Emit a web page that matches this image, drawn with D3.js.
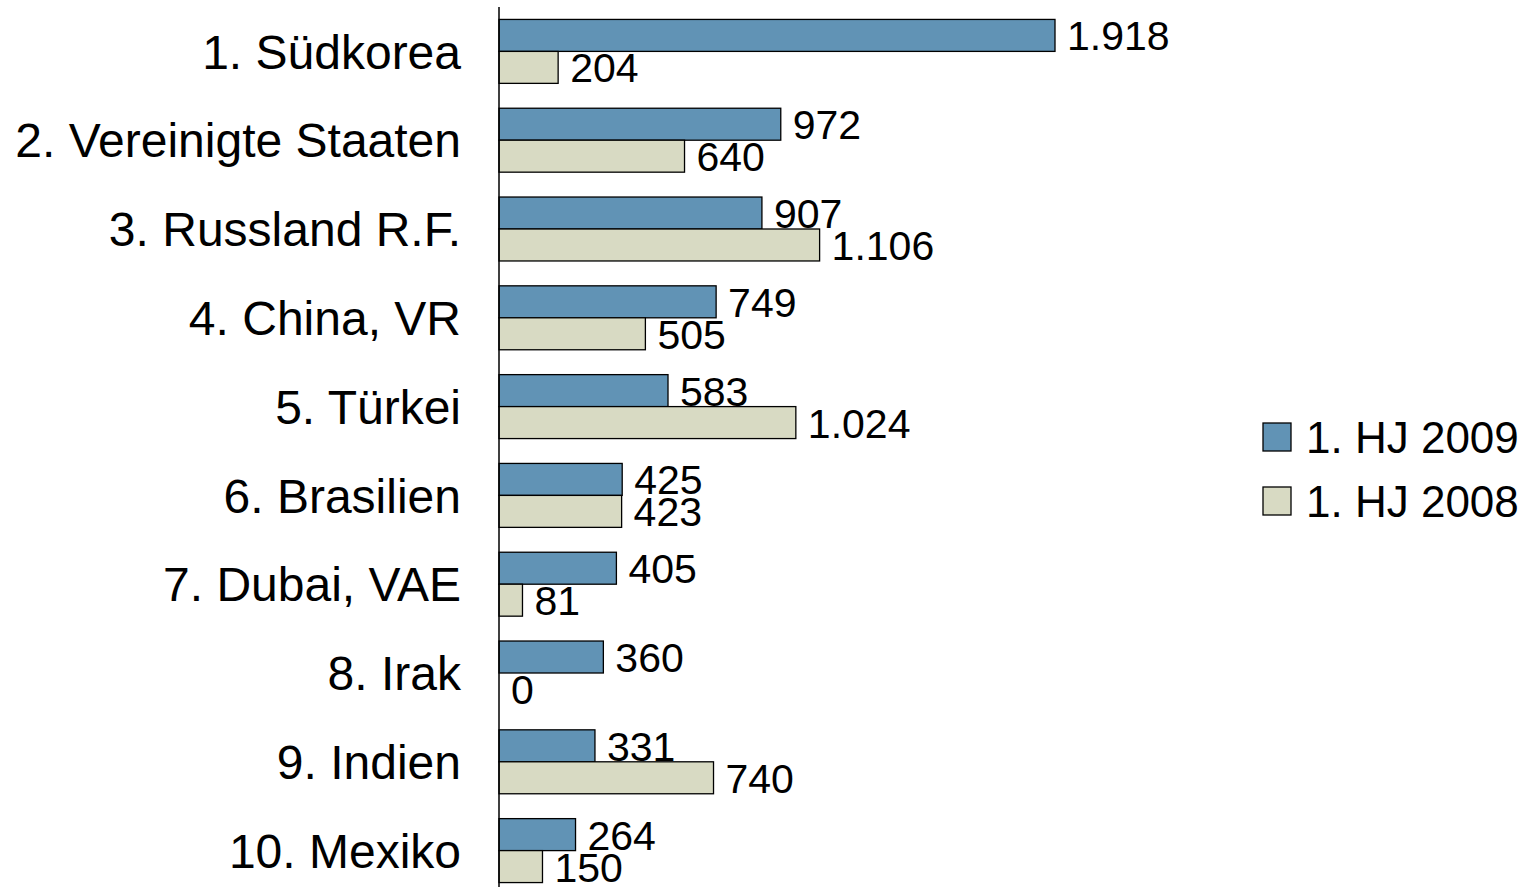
<!DOCTYPE html>
<html>
<head>
<meta charset="utf-8">
<script src="https://cdn.jsdelivr.net/npm/d3@7"></script>
<style>
  body { margin: 0; background: #fff; }
  text { font-family: "Liberation Sans", Arial, sans-serif; fill: #000; }
</style>
</head>
<body>
<script>
// chart data
var countries = ['1. Südkorea', '2. Vereinigte Staaten', '3. Russland R.F.', '4. China, VR',
  '5. Türkei', '6. Brasilien', '7. Dubai, VAE', '8. Irak', '9. Indien', '10. Mexiko'];
var series = ['1. HJ 2009', '1. HJ 2008'];
var values2009 = [1918, 972, 907, 749, 583, 425, 405, 360, 331, 264];
var values2008 = [204, 640, 1106, 505, 1024, 423, 81, 0, 740, 150];
var colors = ['#6193b5', '#d8dac3'];

var width = 1530, height = 887;

var svg = d3.select('body')
  .append('svg')
  .attr('width', width)
  .attr('height', height);

var fmt = d3.formatLocale({decimal: ',', thousands: '.', grouping: [3], currency: ['', '']}).format(',');

var x = d3.scaleLinear().domain([0, 1918]).range([499, 1055]);
var y = d3.scaleBand().domain(countries).range([7, 895]).paddingInner(0.28).paddingOuter(0.14);
var sub = d3.scaleBand().domain(series).range([0, y.bandwidth()]);

var rows = countries.map(function(c, i) {
  return {name: c, vals: [values2009[i], values2008[i]]};
});

var g = svg.selectAll('g.row')
  .data(rows)
  .enter().append('g')
  .attr('class', 'row')
  .attr('transform', function(d) { return 'translate(0,' + y(d.name) + ')'; });

g.selectAll('rect')
  .data(function(d) { return d.vals.map(function(v, j) { return {v: v, s: series[j], j: j}; }); })
  .enter().append('rect')
  .filter(function(d) { return d.v > 0; })
  .attr('x', x(0))
  .attr('y', function(d) { return sub(d.s); })
  .attr('width', function(d) { return x(d.v) - x(0); })
  .attr('height', sub.bandwidth())
  .attr('fill', function(d) { return colors[d.j]; })
  .attr('stroke', '#000')
  .attr('stroke-width', 1.3);

g.selectAll('text.val')
  .data(function(d) { return d.vals.map(function(v, j) { return {v: v, s: series[j]}; }); })
  .enter().append('text')
  .attr('class', 'val')
  .attr('x', function(d) { return x(d.v) + 12; })
  .attr('y', function(d) { return sub(d.s) + sub.bandwidth() - 1; })
  .style('font-size', '41px')
  .text(function(d) { return fmt(d.v); });

// category labels
svg.selectAll('text.cat')
  .data(countries)
  .enter().append('text')
  .attr('class', 'cat')
  .attr('x', 461)
  .attr('y', function(d) { return y(d) + y.bandwidth() / 2; })
  .attr('dy', '0.36em')
  .attr('text-anchor', 'end')
  .style('font-size', '48px')
  .text(function(d) { return d; });

// vertical axis line
svg.append('line')
  .attr('x1', x(0)).attr('x2', x(0))
  .attr('y1', 7).attr('y2', height)
  .attr('stroke', '#000')
  .attr('stroke-width', 1.5);

// legend
var legend = svg.selectAll('g.leg')
  .data(series)
  .enter().append('g')
  .attr('class', 'leg')
  .attr('transform', function(d, i) { return 'translate(1263,' + (423 + i * 64) + ')'; });

legend.append('rect')
  .attr('width', 28).attr('height', 28)
  .attr('fill', function(d, i) { return colors[i]; })
  .attr('stroke', '#000')
  .attr('stroke-width', 1.3);

legend.append('text')
  .attr('x', 43)
  .attr('y', 30)
  .style('font-size', '44px')
  .text(function(d) { return d; });
</script>
</body>
</html>
